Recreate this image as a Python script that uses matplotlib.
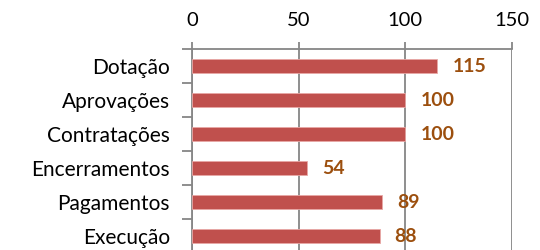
import numpy as np
import matplotlib.pyplot as plt

categories = ["Dotação", "Aprovações", "Contratações", "Encerramentos", "Pagamentos", "Execução"]
values = [115, 100, 100, 54, 89, 88]
x_ticks = [0, 50, 100, 150]

plt.rcParams["font.family"] = ["Lato", "DejaVu Sans"]

fig = plt.figure(figsize=(5.4, 2.5), dpi=100)
ax = fig.add_axes([0.3556, -0.012, 0.5926, 0.816])

y = np.arange(len(categories))
ax.barh(y, values, height=0.39, color="#C0504D", edgecolor="#E8A8A6", linewidth=0.6, zorder=3)

for yi, v in zip(y, values):
    ax.text(v + 7, yi, str(v), va="center", ha="left", fontsize=14,
            fontweight="bold", color="#9C4F0E", zorder=4)

ax.set_xlim(0, 150)
ax.set_ylim(len(categories) - 0.5, -0.5)
ax.set_xticks(x_ticks)
ax.xaxis.tick_top()
ax.tick_params(axis="x", direction="out", length=5, width=1.3, color="#868686",
               labelsize=14.5, pad=9.5)
ax.grid(axis="x", color="#868686", linewidth=1.3, zorder=0)

ax.set_yticks(y)
ax.set_yticklabels(categories, fontsize=15)
ax.set_yticks(np.arange(len(categories) + 1) - 0.5, minor=True)
ax.tick_params(axis="y", which="major", length=0, pad=16)
ax.tick_params(axis="y", which="minor", direction="out", length=7, width=1.3, color="#868686")

for side in ["right", "bottom"]:
    ax.spines[side].set_visible(False)
for side in ["top", "left"]:
    ax.spines[side].set_color("#868686")
    ax.spines[side].set_linewidth(1.3)

fig.savefig("out.png", dpi=100)
